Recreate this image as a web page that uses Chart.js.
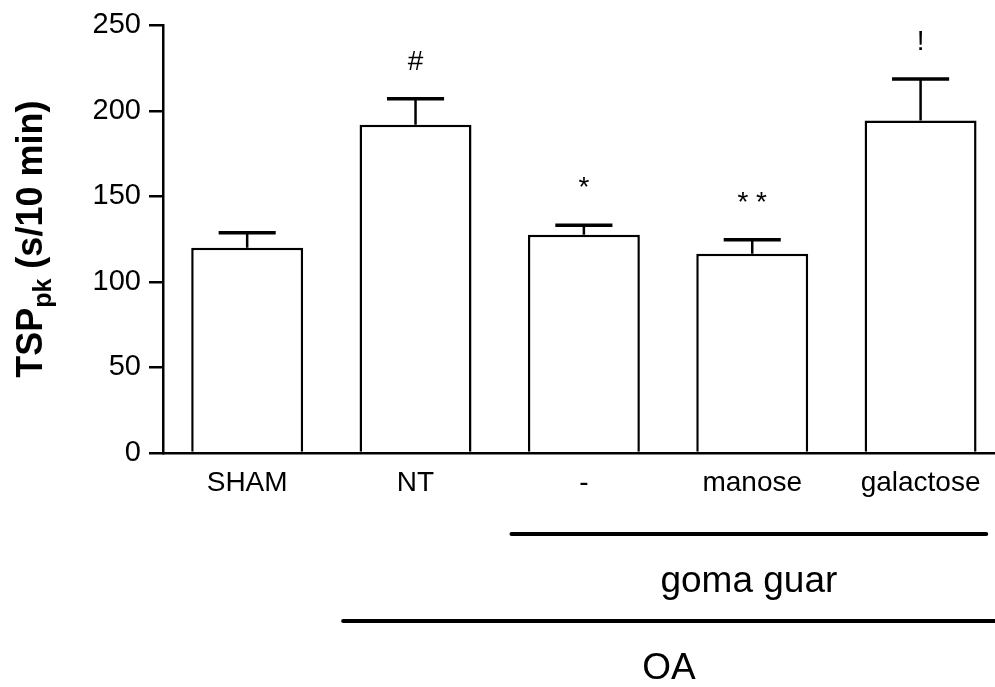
<!DOCTYPE html>
<html>
<head>
<meta charset="utf-8">
<script src="https://cdn.jsdelivr.net/npm/chart.js@4.4.1/dist/chart.umd.min.js"></script>
<style>
  html, body { margin: 0; padding: 0; background: #fff; overflow: hidden; }
  canvas { display: block; }
</style>
</head>
<body>
<canvas id="chart" width="995" height="687"></canvas>
<script>
// Values
const categories = ['SHAM', 'NT', '-', 'manose', 'galactose'];
const means = [120.0, 191.9, 127.6, 116.5, 194.4];
const sems = [8.8, 15.2, 5.5, 8.2, 24.2];
const sigMarks = ['', '#', '*', '**', '!'];
const yTicks = [0, 50, 100, 150, 200, 250];

// Group brackets under the axis (first / last category index of each group)
const groupLabels = ['goma guar', 'OA'];
const groupFirst = [2, 1];
const groupLast = [4, 4];

const FONT = '"Liberation Sans", Arial, Helvetica, sans-serif';

// Upward error bars + significance marks
const errorBars = {
  id: 'errorBars',
  afterDatasetsDraw(chart) {
    const { ctx } = chart;
    const y = chart.scales.y;
    const meta = chart.getDatasetMeta(0);
    ctx.save();
    ctx.strokeStyle = '#000';
    ctx.fillStyle = '#000';
    meta.data.forEach((bar, i) => {
      const top = y.getPixelForValue(means[i]);
      const capY = y.getPixelForValue(means[i] + sems[i]);
      const half = bar.width * 0.255;
      ctx.lineWidth = 2.5;
      ctx.beginPath();
      ctx.moveTo(bar.x, top);
      ctx.lineTo(bar.x, capY);
      ctx.stroke();
      ctx.lineWidth = 3.5;
      ctx.beginPath();
      ctx.moveTo(bar.x - half, capY);
      ctx.lineTo(bar.x + half, capY);
      ctx.stroke();

      if (sigMarks[i]) {
        const txt = sigMarks[i].split('').join(' ');
        ctx.font = '28px ' + FONT;
        ctx.textAlign = 'center';
        ctx.textBaseline = 'alphabetic';
        // ink top sits a fixed distance above the cap
        const asc = ctx.measureText(txt).actualBoundingBoxAscent;
        ctx.fillText(txt, bar.x, capY - 48 + asc);
      }
    });
    ctx.restore();
  }
};

// Rotated y title with subscript
const yTitle = {
  id: 'yTitle',
  afterDraw(chart) {
    const { ctx, chartArea } = chart;
    const parts = [
      { t: 'TSP', size: 36, dy: 0 },
      { t: 'pk', size: 25, dy: 9 },
      { t: ' (s/10 min)', size: 36, dy: 0 }
    ];
    ctx.save();
    ctx.translate(30, (chartArea.top + chartArea.bottom) / 2);
    ctx.rotate(-Math.PI / 2);
    ctx.fillStyle = '#000';
    ctx.textBaseline = 'alphabetic';
    ctx.textAlign = 'left';
    let total = 0;
    parts.forEach(p => {
      ctx.font = 'bold ' + p.size + 'px ' + FONT;
      p.w = ctx.measureText(p.t).width;
      total += p.w;
    });
    let x = -total / 2;
    parts.forEach(p => {
      ctx.font = 'bold ' + p.size + 'px ' + FONT;
      ctx.fillText(p.t, x, 12 + p.dy);
      x += p.w;
    });
    ctx.restore();
  }
};

// Group lines and labels below the category labels
const groups = {
  id: 'groups',
  afterDraw(chart) {
    const { ctx, chartArea, width } = chart;
    const xs = chart.scales.x;
    ctx.save();
    ctx.strokeStyle = '#000';
    ctx.fillStyle = '#000';
    ctx.lineWidth = 4;
    ctx.lineCap = 'round';
    groupLabels.forEach((label, row) => {
      const lineY = chartArea.bottom + 81 + row * 87;
      const x0 = xs.getPixelForValue(groupFirst[row] - 0.43);
      const x1 = Math.min(xs.getPixelForValue(groupLast[row] + 0.39 + row * 0.05), width);
      ctx.beginPath();
      ctx.moveTo(x0, lineY);
      ctx.lineTo(x1, lineY);
      ctx.stroke();
      ctx.font = '37px ' + FONT;
      ctx.textAlign = 'center';
      ctx.textBaseline = 'alphabetic';
      ctx.fillText(label, (x0 + x1) / 2, lineY + 58);
    });
    ctx.restore();
  }
};

new Chart(document.getElementById('chart'), {
  type: 'bar',
  data: {
    datasets: [{
      data: means.map((v, i) => ({ x: i, y: v })),
      backgroundColor: '#ffffff',
      borderColor: '#000000',
      borderWidth: 2.5,
      categoryPercentage: 1,
      barPercentage: 0.665
    }]
  },
  options: {
    responsive: false,
    animation: false,
    layout: { padding: { top: 25, right: 0, left: 0, bottom: 0 } },
    plugins: {
      legend: { display: false },
      tooltip: { enabled: false }
    },
    scales: {
      x: {
        type: 'linear',
        offset: false,
        min: -0.5,
        max: 4.442,
        afterBuildTicks: s => { s.ticks = categories.map((c, i) => ({ value: i })); },
        afterFit: s => { s.height = 234; },
        grid: { display: false },
        border: { display: true, color: '#000', width: 2.5 },
        ticks: {
          callback: v => categories[v],
          autoSkip: false,
          maxRotation: 0,
          color: '#000',
          padding: 5,
          font: { family: FONT, size: 28 }
        }
      },
      y: {
        min: 0,
        max: 250,
        afterBuildTicks: s => { s.ticks = yTicks.map(v => ({ value: v })); },
        afterFit: s => { s.width = 163; },
        grid: { drawOnChartArea: false, drawTicks: true, tickLength: 14, color: '#000', lineWidth: 2.5 },
        border: { display: true, color: '#000', width: 2.5 },
        ticks: {
          color: '#000',
          padding: 8,
          font: { family: FONT, size: 29 }
        }
      }
    }
  },
  plugins: [errorBars, yTitle, groups]
});
</script>
</body>
</html>
